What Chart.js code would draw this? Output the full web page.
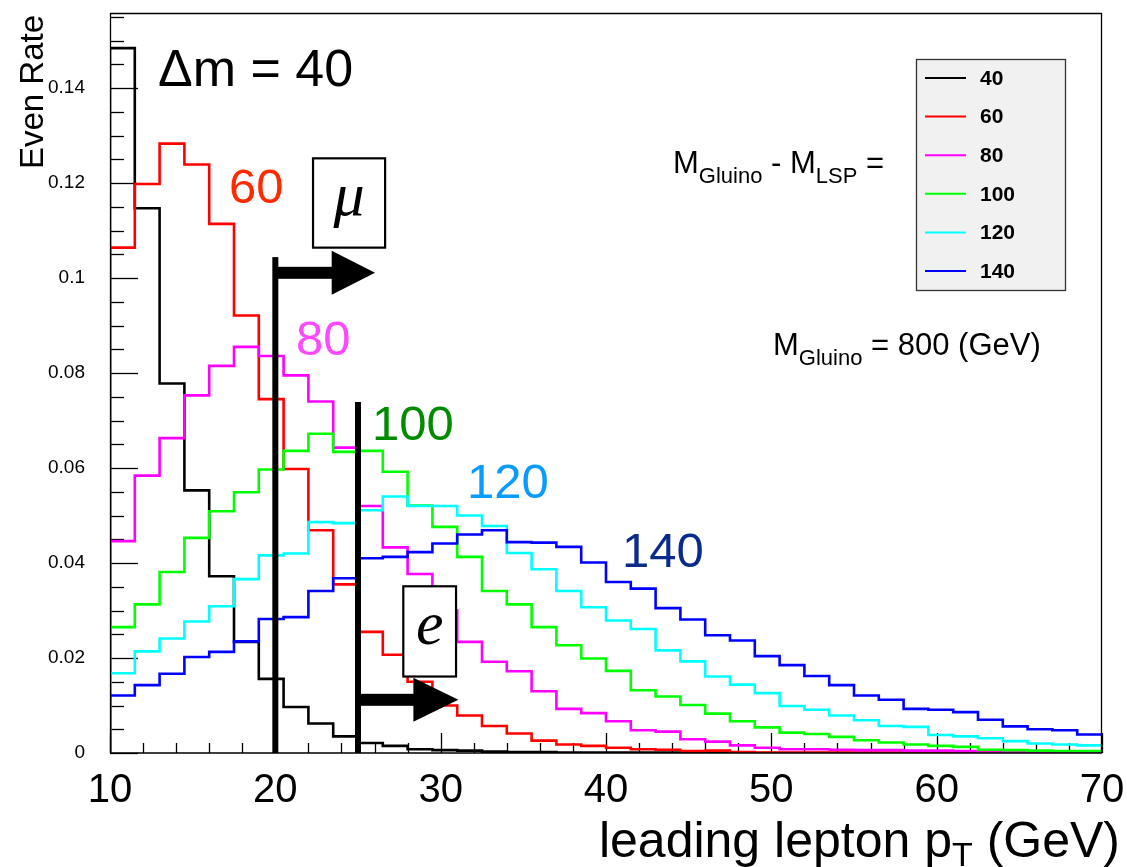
<!DOCTYPE html>
<html><head><meta charset="utf-8">
<script src="https://cdn.jsdelivr.net/npm/chart.js@4.4.1/dist/chart.umd.min.js"></script>
<style>html,body{margin:0;padding:0;background:#fff;}#wrap{width:1127px;height:867px;}</style>
</head><body><div id="wrap"><canvas id="c" width="1127" height="867"></canvas></div>
<script>
// ---- data ----
const binLowEdges = [10,11.5,13,14.5,16,17.5,19,20.5,22,23.5,25,26.5,28,29.5,31,32.5,34,35.5,37,38.5,40,41.5,43,44.5,46,47.5,49,50.5,52,53.5,55,56.5,58,59.5,61,62.5,64,65.5,67,68.5];
const xUpperEdge = 70;
const seriesNames = ['40','60','80','100','120','140'];
const seriesColors = ['#000000','#ff0000','#ff00ff','#00ff00','#00ffff','#0000ff'];
const rate40 = [0.1484,0.1147,0.0778,0.0553,0.0372,0.0234,0.0156,0.0097,0.0062,0.0035,0.0021,0.0015,0.0008,0.0006,0.0005,0.0003,0.0002,0.0002,0.0001,0.0001,0.0001,0.0001,0.0001,0.0001,0,0,0,0,0,0,0,0,0,0,0,0,0,0,0,0];
const rate60 = [0.1064,0.1198,0.1283,0.1239,0.1114,0.0921,0.0745,0.0598,0.0469,0.0355,0.0255,0.0207,0.0150,0.0100,0.0079,0.0057,0.0041,0.0026,0.0018,0.0015,0.0011,0.0008,0.0007,0.0004,0.0005,0.0002,0.0001,0.0001,0.0001,0.0001,0.0001,0.0001,0.0001,0.0001,0.0001,0.0001,0.0001,0.0001,0.0001,0.0001];
const rate80 = [0.0446,0.0584,0.0663,0.0753,0.0815,0.0855,0.0836,0.0795,0.0740,0.0643,0.0520,0.0433,0.0377,0.0300,0.0234,0.0192,0.0172,0.0130,0.0093,0.0084,0.0067,0.0048,0.0045,0.0029,0.0024,0.0016,0.0011,0.0008,0.0008,0.0007,0.0006,0.0006,0.0005,0.0005,0.0004,0.0001,0.0001,0.0001,0.0001,0.0001];
const rate100 = [0.0265,0.0313,0.0381,0.0453,0.0509,0.0549,0.0597,0.0636,0.0672,0.0634,0.0636,0.0592,0.0521,0.0476,0.0413,0.0341,0.0313,0.0265,0.0227,0.0199,0.0173,0.0132,0.0119,0.0101,0.0083,0.0067,0.0054,0.0043,0.0040,0.0034,0.0027,0.0022,0.0018,0.0015,0.0013,0.0007,0.0006,0.0005,0.0004,0.0004];
const rate120 = [0.0168,0.0214,0.0241,0.0277,0.0309,0.0366,0.0416,0.0420,0.0486,0.0484,0.0511,0.0540,0.0520,0.0520,0.0500,0.0478,0.0421,0.0387,0.0341,0.0307,0.0279,0.0261,0.0216,0.0193,0.0161,0.0144,0.0126,0.0099,0.0091,0.0079,0.0069,0.0057,0.0055,0.0038,0.0035,0.0031,0.0025,0.0020,0.0018,0.0016];
const rate140 = [0.0121,0.0143,0.0167,0.0202,0.0213,0.0235,0.0282,0.0286,0.0341,0.0368,0.0410,0.0413,0.0423,0.0441,0.0460,0.0469,0.0444,0.0443,0.0434,0.0401,0.0360,0.0346,0.0305,0.0281,0.0248,0.0237,0.0204,0.0185,0.0162,0.0143,0.0121,0.0112,0.0093,0.0091,0.0086,0.0070,0.0056,0.0050,0.0048,0.0039];
const seriesValues = [rate40, rate60, rate80, rate100, rate120, rate140];

const xTickValues = [10,20,30,40,50,60,70];
const yTickValues = [0,0.02,0.04,0.06,0.08,0.1,0.12,0.14];
const xMin = 10, xMax = 70, yMin = 0, yMax = 0.1558;

// annotation texts (in data coordinates)
const curveLabelText = ['60','80','100','120','140'];
const curveLabelX = [17.2, 21.25, 25.85, 31.6, 40.97];
const curveLabelY = [0.1157, 0.0837, 0.0658, 0.0536, 0.0391];
const curveLabelColor = ['#ff2a00','#ff48ff','#008c00','#0a9bff','#0a2a8c'];
const titleText = 'Δm = 40';
const titlePos = [12.9, 0.1405];

// lepton pT cuts: value, line top, arrow y, arrow head base, arrow tip, boxes, symbol
const cutValues = [20, 25];
const cutLineTop = [0.1044, 0.0739];
const cutArrowY = [0.1011, 0.0112];
const cutArrowBase = [23.41, 28.35];
const cutArrowTip = [26.03, 31.07];
const cutBoxX = [[22.28, 26.64], [27.74, 30.93]];
const cutBoxY = [[0.1252, 0.1064], [0.0351, 0.0161]];
const cutSymbols = ['μ', 'e'];

// ---- build datasets ----
const datasets = seriesValues.map((vals, i) => {
  const pts = [{x: binLowEdges[0], y: 0}];
  vals.forEach((v, k) => pts.push({x: binLowEdges[k], y: v}));
  pts.push({x: xUpperEdge, y: vals[vals.length - 1]});
  return {
    label: seriesNames[i], data: pts, borderColor: seriesColors[i],
    borderWidth: 2.6, pointRadius: 0, fill: false, stepped: true,
    borderJoinStyle: 'miter', order: seriesValues.length - i
  };
});

const SANS = "'Liberation Sans', Arial, Helvetica, sans-serif";

const rootStyle = {
  id: 'rootStyle',
  beforeDatasetsDraw(chart) {
    const {ctx, chartArea: a, scales: {x, y}} = chart;
    ctx.save();
    ctx.strokeStyle = '#000';
    ctx.lineWidth = 1.3;
    for (let k = 0; k * 0.005 <= yMax + 1e-9; k++) {
      const py = Math.round(y.getPixelForValue(k * 0.005)) + 0.5;
      const len = (k % 4 === 0) ? 28 : 14;
      ctx.beginPath(); ctx.moveTo(a.left, py); ctx.lineTo(a.left + len, py); ctx.stroke();
    }
    for (let v = xMin; v <= xMax + 1e-9; v += 2) {
      const px = Math.round(x.getPixelForValue(v)) + 0.5;
      const len = ((v - xMin) % 10 === 0) ? 20 : 10;
      ctx.beginPath(); ctx.moveTo(px, a.bottom); ctx.lineTo(px, a.bottom - len); ctx.stroke();
    }
    ctx.restore();
  },
  afterDatasetsDraw(chart) {
    const {ctx, chartArea: a, scales: {x, y}} = chart;
    ctx.save();
    ctx.strokeStyle = '#000'; ctx.lineWidth = 1.3;
    ctx.beginPath();
    ctx.moveTo(a.left + 0.5, a.bottom); ctx.lineTo(a.left + 0.5, a.top + 0.5);
    ctx.lineTo(a.right - 0.5, a.top + 0.5); ctx.lineTo(a.right - 0.5, a.bottom);
    ctx.lineTo(a.left + 0.5, a.bottom);
    ctx.stroke();

    cutValues.forEach((cv, i) => {
      const px = x.getPixelForValue(cv);
      const top = y.getPixelForValue(cutLineTop[i]);
      const bot = y.getPixelForValue(0);
      ctx.fillStyle = '#000';
      ctx.fillRect(px - 3, top, 6, bot - top);
      const sy = y.getPixelForValue(cutArrowY[i]);
      const bx = x.getPixelForValue(cutArrowBase[i]);
      const tx = x.getPixelForValue(cutArrowTip[i]);
      ctx.fillRect(px, sy - 6, bx - px + 1, 12);
      ctx.beginPath(); ctx.moveTo(bx, sy - 22); ctx.lineTo(tx, sy); ctx.lineTo(bx, sy + 22); ctx.closePath(); ctx.fill();
      const x0 = x.getPixelForValue(cutBoxX[i][0]), x1 = x.getPixelForValue(cutBoxX[i][1]);
      const y0 = y.getPixelForValue(cutBoxY[i][0]), y1 = y.getPixelForValue(cutBoxY[i][1]);
      ctx.fillStyle = '#fff';
      ctx.fillRect(x0, y0, x1 - x0, y1 - y0);
      ctx.strokeStyle = '#000'; ctx.lineWidth = 2.2;
      ctx.strokeRect(x0, y0, x1 - x0, y1 - y0);
      ctx.fillStyle = '#000';
      ctx.font = "italic 62px 'Liberation Serif', 'Times New Roman', serif";
      ctx.textAlign = 'center'; ctx.textBaseline = 'middle';
      ctx.fillText(cutSymbols[i], (x0 + x1) / 2, (y0 + y1) / 2 - 4);
    });

    ctx.textAlign = 'left'; ctx.textBaseline = 'alphabetic';
    ctx.font = '49px ' + SANS;
    curveLabelText.forEach((t, i) => {
      ctx.fillStyle = curveLabelColor[i];
      ctx.fillText(t, x.getPixelForValue(curveLabelX[i]), y.getPixelForValue(curveLabelY[i]));
    });
    ctx.fillStyle = '#000';
    ctx.font = '52px ' + SANS;
    ctx.fillText(titleText, x.getPixelForValue(titlePos[0]), y.getPixelForValue(titlePos[1]));

    // legend box
    const lx0 = 916, ly0 = 59, lx1 = 1065, ly1 = 290;
    ctx.fillStyle = '#f1f1f1';
    ctx.fillRect(lx0, ly0, lx1 - lx0, ly1 - ly0);
    ctx.strokeStyle = '#333'; ctx.lineWidth = 1.3;
    ctx.strokeRect(lx0 + 0.5, ly0 + 0.5, lx1 - lx0, ly1 - ly0);
    const rowH = (271 - 78) / 5;
    ctx.font = 'bold 21px ' + SANS;
    ctx.textBaseline = 'middle';
    chart.data.datasets.forEach((ds, i) => {
      const cy = 78 + i * rowH;
      ctx.strokeStyle = ds.borderColor; ctx.lineWidth = 2;
      ctx.beginPath(); ctx.moveTo(925, cy); ctx.lineTo(966, cy); ctx.stroke();
      ctx.fillStyle = '#000';
      ctx.fillText(ds.label, 980, cy + 1);
    });

    function richLine(parts, startX, baseY) {
      let cx = startX;
      ctx.textAlign = 'left'; ctx.textBaseline = 'alphabetic'; ctx.fillStyle = '#000';
      parts.forEach(p => {
        ctx.font = (p.sub ? '22px ' : '31px ') + SANS;
        ctx.fillText(p.t, cx, baseY + (p.sub ? 10 : 0));
        cx += ctx.measureText(p.t).width;
      });
    }
    richLine([{t:'M'},{t:'Gluino',sub:true},{t:' - M'},{t:'LSP',sub:true},{t:' ='}], 673, 173);
    richLine([{t:'M'},{t:'Gluino',sub:true},{t:' = 800 (GeV)'}], 773, 355);
    ctx.restore();
  },
  afterDraw(chart) {
    const ctx = chart.ctx;
    ctx.save();
    ctx.fillStyle = '#000';
    ctx.font = '33px ' + SANS;
    ctx.translate(43, 15); ctx.rotate(-Math.PI / 2);
    ctx.textAlign = 'right'; ctx.textBaseline = 'alphabetic';
    ctx.fillText('Even Rate', 0, 0);
    ctx.setTransform(1, 0, 0, 1, 0, 0);
    ctx.textAlign = 'left';
    ctx.font = '50px ' + SANS;
    const s1 = 'leading lepton p', s3 = ' (GeV)';
    const w1 = ctx.measureText(s1).width, w3 = ctx.measureText(s3).width;
    ctx.font = '34px ' + SANS;
    const w2 = ctx.measureText('T').width;
    const x0 = 1120 - (w1 + w2 + w3);
    ctx.font = '50px ' + SANS;
    ctx.fillText(s1, x0, 857);
    ctx.font = '34px ' + SANS;
    ctx.fillText('T', x0 + w1, 866);
    ctx.font = '50px ' + SANS;
    ctx.fillText(s3, x0 + w1 + w2, 857);
    ctx.restore();
  }
};

const chart = new Chart(document.getElementById('c'), {
  type: 'line',
  data: { datasets },
  options: {
    responsive: false, animation: false, devicePixelRatio: 1,
    layout: { padding: { top: 13, right: 25, left: 0, bottom: 0 } },
    plugins: { legend: { display: false }, tooltip: { enabled: false } },
    scales: {
      x: {
        type: 'linear', min: xMin, max: xMax,
        afterBuildTicks: s => { s.ticks = xTickValues.map(v => ({value: v})); },
        afterFit: s => { s.height = 114; s.paddingLeft = 0; s.paddingRight = 0; s.paddingTop = 0; s.paddingBottom = 0; },
        grid: { display: false, drawTicks: false }, border: { display: false },
        ticks: { autoSkip: false, maxRotation: 0, padding: 14, color: '#000', font: { family: SANS, size: 40 } }
      },
      y: {
        type: 'linear', min: yMin, max: yMax,
        afterBuildTicks: s => { s.ticks = yTickValues.map(v => ({value: v})); },
        afterFit: s => { s.width = 110; s.paddingLeft = 0; s.paddingRight = 0; s.paddingTop = 0; s.paddingBottom = 0; },
        grid: { display: false, drawTicks: false }, border: { display: false },
        ticks: { padding: 25, color: '#000', font: { family: SANS, size: 19 },
          callback: v => String(parseFloat(Number(v).toFixed(3))) }
      }
    }
  },
  plugins: [rootStyle]
});
// safety: nudge layout padding so the plot frame lands where the reference has it
(function () {
  const p = chart.options.layout.padding;
  for (let i = 0; i < 2; i++) {
    const a = chart.chartArea;
    const dt = a.top - 13, dr = a.right - 1102;
    if (Math.abs(dt) < 0.5 && Math.abs(dr) < 0.5) break;
    p.top -= dt; p.right += dr;
    chart.update();
  }
})();
</script></body></html>
